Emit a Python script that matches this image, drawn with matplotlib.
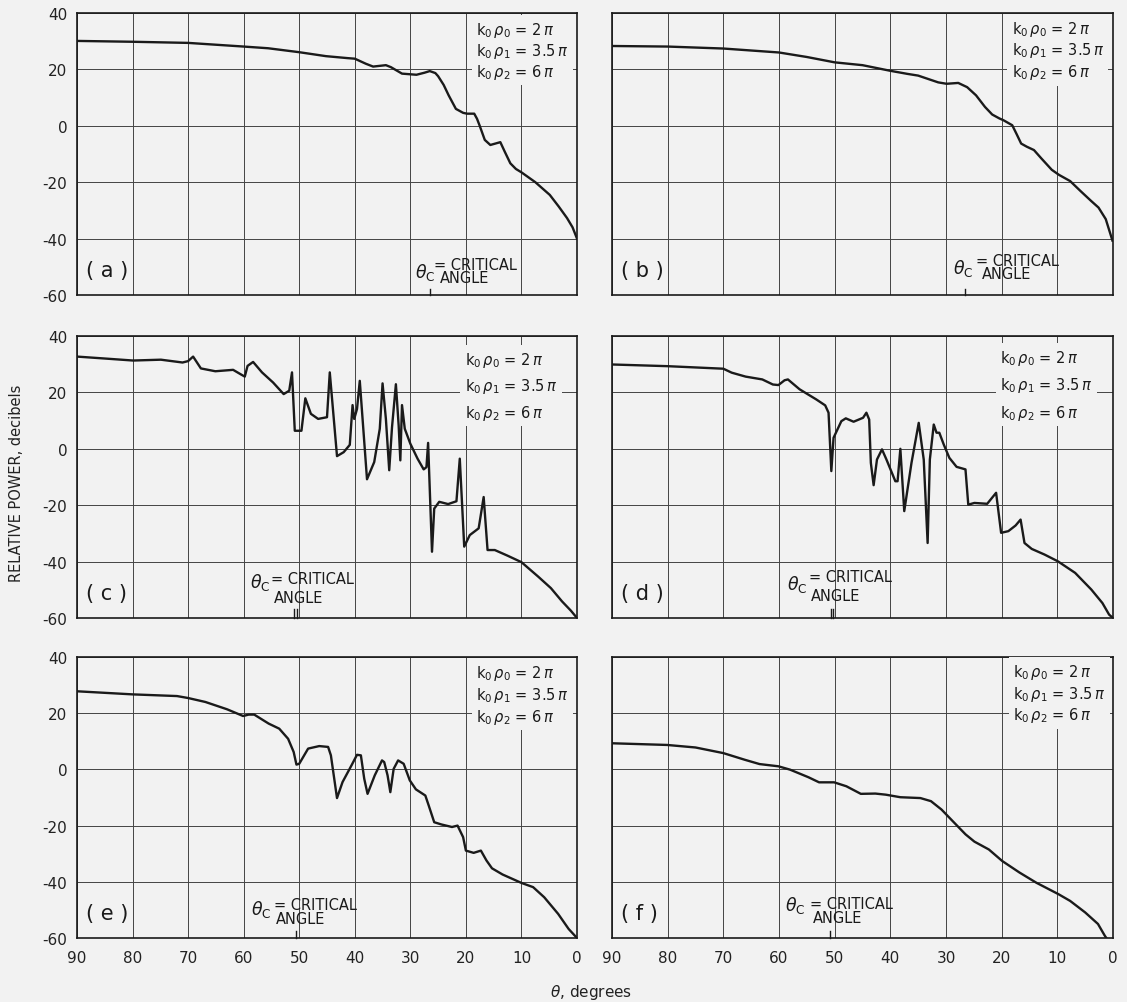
import matplotlib.pyplot as plt

plt.rcParams['font.family'] = ['DejaVu Sans']
plt.rcParams['mathtext.fontset'] = 'dejavusans'
plt.rcParams['axes.unicode_minus'] = False

# theta (degrees) and relative power (dB)
theta_a = [90, 80, 70, 60, 55.6, 50, 45.2, 41.3, 40, 38, 36.7, 34.4, 33.5, 31.5, 28.9,
           27.5, 26.5, 25.5, 25, 24, 23.1, 21.8, 20.5, 19.8, 18.5, 18, 17.55, 16.6, 15.6,
           14.7, 13.8, 13, 12, 11, 10, 7.5, 4.9, 3.3, 1.8, 0.8, 0]
db_a = [30.1, 29.8, 29.4, 28.1, 27.5, 26.1, 24.7, 24.0, 23.8, 22.0, 21.0, 21.5, 20.8, 18.5, 18.1,
        18.8, 19.4, 18.7, 17.6, 14.5, 10.8, 6.0, 4.6, 4.3, 4.3, 2.5, 0.2, -5.0, -6.8,
        -6.3, -5.8, -9.2, -13.3, -15.3, -16.5, -20.0, -24.5, -28.6, -32.7, -36.0, -40.0]

theta_b = [90, 80, 70, 60, 55, 50, 45, 40, 36.9, 35, 31.4, 29.9, 27.8, 26.2, 24.6, 23, 21.7,
           20.4, 19.7, 18.1, 17.3, 16.5, 15.5, 14.2, 12.9, 11, 9.7, 7.7, 5.8, 3.9, 2.6, 1.3, 0.1]
db_b = [28.3, 28.1, 27.4, 26.0, 24.4, 22.5, 21.5, 19.5, 18.4, 17.8, 15.4, 14.9, 15.2, 13.7, 10.8,
        6.7, 4.0, 2.6, 2.0, 0.2, -3.0, -6.3, -7.4, -8.6, -11.5, -15.6, -17.4, -19.6, -23.2,
        -26.7, -29.0, -33.1, -40.7]

theta_c = [90, 84.9, 79.9, 74.9, 71.0, 70.0, 69.1, 67.7, 65.1, 61.9, 60.6, 59.8, 59.3, 58.3,
           56.7, 54.7, 52.8, 51.8, 51.3, 50.8, 49.6, 48.9, 47.9, 46.6, 45.0, 44.5, 43.2, 42.0,
           40.9, 40.4, 40.1, 39.6, 39.1, 37.8, 36.5, 35.5, 35.0, 34.4, 33.8, 33.3, 32.6, 32.1,
           31.8, 31.5, 31.0, 30.0, 28.7, 27.6, 27.1, 26.8, 26.1, 25.7, 24.8, 23.2, 21.7, 21.1,
           20.3, 19.3, 17.7, 16.8, 16.1, 14.8, 12.5, 10.0, 7.0, 4.7, 2.7, 1.1, 0]
db_c = [32.7, 32.0, 31.3, 31.6, 30.6, 31.1, 32.7, 28.5, 27.5, 28.0, 26.5, 25.6, 29.4, 30.8,
        27.1, 23.5, 19.4, 20.6, 27.1, 6.4, 6.4, 17.9, 12.4, 10.6, 11.2, 27.1, -2.6, -1.2,
        1.4, 15.5, 10.6, 14.1, 24.1, -10.8, -4.7, 7.1, 23.2, 10.6, -7.6, 7.6, 22.9, 8.2,
        -4.1, 15.5, 7.1, 1.8, -3.5, -7.3, -6.5, 2.1, -36.5, -21.2, -18.8, -19.6, -18.6, -3.5,
        -34.7, -30.6, -28.2, -17.1, -35.9, -35.9, -37.9, -40.2, -45.3, -49.4, -54.1, -57.4, -60.0]

theta_d = [90, 80, 70, 68.5, 66.0, 63.0, 61.1, 60.1, 59.0, 58.4, 56.3, 53.3, 51.7, 51.1, 50.6,
           50.2, 48.8, 48.0, 46.6, 44.9, 44.3, 43.8, 43.5, 43.0, 42.4, 41.5, 40.7, 39.1, 38.7,
           38.2, 37.5, 36.2, 34.9, 34.0, 33.3, 32.9, 32.2, 31.7, 31.2, 30.4, 29.4, 28.1, 26.5,
           26.0, 24.9, 22.6, 21.0, 20.1, 18.8, 17.5, 16.6, 15.9, 14.6, 12.3, 9.9, 6.8, 3.9,
           1.9, 0.7, 0]
db_d = [29.9, 29.3, 28.4, 27.0, 25.6, 24.6, 22.8, 22.6, 24.3, 24.6, 21.1, 17.5, 15.4, 12.8, -7.9,
        3.9, 9.8, 10.8, 9.6, 11.0, 12.8, 10.4, -5.0, -12.9, -3.8, -0.2, -3.8, -11.5, -11.5,
        0.0, -22.1, -5.0, 9.2, -3.8, -33.4, -3.8, 8.6, 5.7, 5.7, 1.5, -3.2, -6.4, -7.3,
        -19.8, -19.2, -19.5, -15.6, -29.8, -29.2, -27.2, -25.1, -33.4, -35.5, -37.5, -39.9,
        -44.0, -49.9, -54.7, -58.8, -60.0]

theta_e = [90, 80, 72.0, 70.0, 66.9, 63.0, 60.1, 59.1, 58.1, 55.5, 53.6, 52.0, 51.0, 50.5, 50.0,
           48.4, 46.4, 44.8, 44.3, 43.2, 42.2, 40.6, 39.6, 38.9, 38.3, 37.7, 36.4, 35.1, 34.7,
           34.1, 33.6, 33.0, 32.2, 31.2, 30.1, 29.0, 27.3, 26.7, 25.7, 24.4, 22.5, 21.5, 20.5,
           20.0, 18.6, 17.3, 16.3, 15.3, 13.4, 10.0, 7.9, 5.9, 3.4, 1.5, 0]
db_e = [27.8, 26.7, 26.1, 25.4, 24.0, 21.4, 19.0, 19.5, 19.5, 16.3, 14.5, 10.9, 6.2, 1.7, 2.0,
        7.4, 8.3, 8.0, 5.0, -10.2, -4.5, 1.4, 5.2, 5.0, -3.3, -8.7, -2.1, 3.2, 2.6,
        -2.1, -8.1, 0.2, 3.2, 2.0, -3.9, -7.1, -9.3, -12.8, -18.8, -19.6, -20.5, -20.0, -24.1,
        -28.9, -29.7, -28.9, -32.4, -35.2, -37.4, -40.4, -41.9, -45.5, -51.4, -56.8, -60.0]

theta_f = [90, 80.1, 75, 70, 66.1, 63.5, 60.1, 58, 54.7, 52.8, 50.1, 47.9, 45.3, 42.7, 40.8,
           38.2, 34.6, 32.7, 30.8, 28.8, 26.5, 24.9, 22.3, 19.9, 16.8, 13.8, 9.8, 7.7, 5.0,
           2.7, 1.5, 1.2]
db_f = [9.3, 8.7, 7.8, 5.8, 3.4, 1.9, 1.1, -0.1, -2.8, -4.6, -4.6, -6.0, -8.7, -8.6, -9.0,
        -9.9, -10.2, -11.3, -14.3, -18.4, -23.1, -25.7, -28.5, -32.6, -36.7, -40.3, -44.4,
        -46.8, -50.9, -55.0, -59.1, -60.0]

series = [(theta_a, db_a), (theta_b, db_b), (theta_c, db_c),
          (theta_d, db_d), (theta_e, db_e), (theta_f, db_f)]
panel_names = ['a', 'b', 'c', 'd', 'e', 'f']
param_lines = [r"k$_0\,\rho_0$ = 2$\,\pi$", r"k$_0\,\rho_1$ = 3.5$\,\pi$", r"k$_0\,\rho_2$ = 6$\,\pi$"]
x_ticks = [90, 80, 70, 60, 50, 40, 30, 20, 10, 0]
y_ticks = [40, 20, 0, -20, -40, -60]

# where the critical angle marks sit on the bottom edge
crit_marks = [[26.5], [26.6], [50.9, 50.4], [50.6, 50.3], [50.6], [50.9]]
crit_len = [2.2, 2.2, 3.2, 3.2, 2.6, 2.6]

# text placement per panel: theta_c sym, "= CRITICAL", "ANGLE", params (left, top, linespacing)
layout = [
    dict(sym=(29.1, -51.8), eq=(25.8, -49.2), ang=(20.3, -53.8), par=(18.2, 37.6, 1.15)),
    dict(sym=(28.8, -50.1), eq=(24.7, -47.7), ang=(19.2, -52.4), par=(18.2, 38.0, 1.2)),
    dict(sym=(58.9, -47.1), eq=(55.0, -45.9), ang=(50.2, -52.7), par=(20.2, 35.2, 1.55)),
    dict(sym=(58.5, -47.6), eq=(54.6, -45.4), ang=(49.9, -52.1), par=(20.3, 35.8, 1.6)),
    dict(sym=(58.6, -49.6), eq=(54.5, -48.2), ang=(49.7, -52.9), par=(18.1, 38.0, 1.22)),
    dict(sym=(59.0, -48.2), eq=(54.4, -47.7), ang=(49.5, -52.6), par=(17.9, 38.3, 1.2)),
]

W, H = 1127, 1003
bg = '#f2f2f2'
ink = '#1a1a1a'
fig = plt.figure(figsize=(W / 100, H / 100), dpi=100, facecolor=bg)

cols = [(77, 577), (612, 1113)]
rows = [(14, 296), (337, 619), (658, 939)]

for i, (th, db) in enumerate(series):
    r, c = divmod(i, 2)
    left, right = cols[c]
    top, bottom = rows[r]
    ax = fig.add_axes([left / W, 1 - bottom / H, (right - left) / W, (bottom - top) / H])
    ax.set_facecolor(bg)

    ax.plot(th, db, color=ink, lw=1.7, solid_joinstyle='round', zorder=3)

    ax.set_xlim(90, 0)
    ax.set_ylim(-60, 40)
    ax.set_xticks(x_ticks)
    ax.set_yticks(y_ticks)
    ax.grid(True, color='#444444', lw=0.7, zorder=1)
    for s in ax.spines.values():
        s.set_color(ink)
        s.set_linewidth(1.2)
    ax.tick_params(length=0, labelsize=11, labelcolor='#222222')
    ax.tick_params(axis='x', pad=9)
    ax.tick_params(axis='y', pad=7)
    ax.tick_params(labelleft=(c == 0), labelbottom=(r == 2))

    lay = layout[i]
    # parameter block, its background hides the grid behind it
    px, py, lsp = lay['par']
    ax.text(px, py, "\n".join(param_lines), fontsize=10.5, color=ink, ha='left', va='top',
            linespacing=lsp, zorder=4,
            bbox=dict(boxstyle='square,pad=0.3', fc=bg, ec='none'))

    ax.text(88.3, -51, "( %s )" % panel_names[i], fontsize=15, color=ink,
            ha='left', va='center', zorder=4)

    ax.text(*lay['sym'], r"$\theta_{\rm C}$", fontsize=12.5, color=ink, ha='left', va='center', zorder=4)
    ax.text(*lay['eq'], "= CRITICAL", fontsize=10.5, color=ink, ha='left', va='center', zorder=4)
    ax.text(*lay['ang'], "ANGLE", fontsize=10.5, color=ink, ha='center', va='center', zorder=4)

    for m in crit_marks[i]:
        ax.plot([m, m], [-60, -60 + crit_len[i]], color=ink, lw=1.0, zorder=4, clip_on=False)

fig.text(17 / W, 1 - 483 / H, "RELATIVE POWER, decibels", rotation=90, fontsize=10.5,
         color='#222222', ha='center', va='center')
fig.text(591 / W, 1 - 993 / H, r"$\theta$, degrees", fontsize=11, color='#222222',
         ha='center', va='center')

fig.savefig('out.png', dpi=100, facecolor=bg)
